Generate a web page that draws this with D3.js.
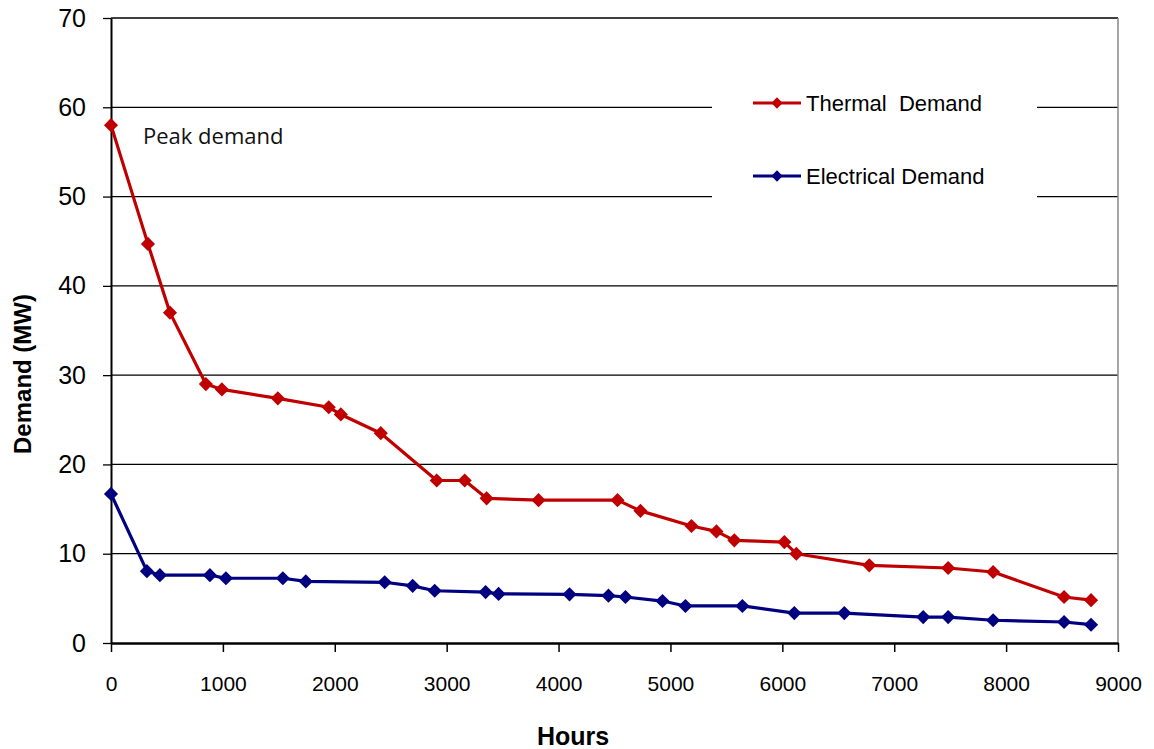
<!DOCTYPE html>
<html lang="en">
<head>
  <meta charset="UTF-8" />
  <title>Demand duration curve</title>
  <style>
    body { margin: 0; background: #fff; }
    svg { display: block; }
  </style>
  <script src="https://cdn.jsdelivr.net/npm/d3@7"></script>
</head>
<body>
  <script>
    // hours / MW
    const thermalHours = [0, 330, 527, 848, 991, 1491, 1946, 2054, 2411, 2911, 3161, 3357, 3821, 4527, 4732, 5188, 5411, 5571, 6018, 6125, 6777, 7482, 7884, 8518, 8759];
    const thermalMW = [58.0, 44.7, 37.0, 29.0, 28.4, 27.4, 26.4, 25.6, 23.5, 18.2, 18.2, 16.2, 16.0, 16.0, 14.8, 13.1, 12.5, 11.5, 11.3, 10.0, 8.7, 8.4, 7.95, 5.15, 4.8];

    const electricHours = [0, 321, 437, 884, 1027, 1536, 1741, 2446, 2696, 2893, 3348, 3464, 4098, 4446, 4598, 4929, 5134, 5643, 6107, 6554, 7259, 7482, 7884, 8518, 8759];
    const electricMW = [16.7, 8.05, 7.6, 7.6, 7.25, 7.25, 6.9, 6.8, 6.4, 5.85, 5.7, 5.5, 5.45, 5.3, 5.15, 4.7, 4.15, 4.15, 3.35, 3.35, 2.9, 2.9, 2.55, 2.35, 2.05];

    const xTicks = [0, 1000, 2000, 3000, 4000, 5000, 6000, 7000, 8000, 9000];
    const yTicks = [0, 10, 20, 30, 40, 50, 60, 70];
    const seriesNames = ["Thermal  Demand", "Electrical Demand"];
    const seriesColors = ["#C00000", "#000080"];

    const W = 1154, H = 749;
    const mLeft = 111, mRight = 1118, mTop = 18, mBottom = 643;
    const font = "Liberation Sans, Arial, sans-serif";

    const x = d3.scaleLinear().domain([0, 9000]).range([mLeft, mRight]);
    const y = d3.scaleLinear().domain([0, 70]).range([mBottom, mTop]);

    const svg = d3.select("body").append("svg")
      .attr("width", W).attr("height", H);

    // gridlines
    svg.append("g").selectAll("line")
      .data(yTicks.filter(d => d > 0))
      .join("line")
      .attr("x1", mLeft).attr("x2", mRight)
      .attr("y1", d => y(d)).attr("y2", d => y(d))
      .attr("stroke", "#000").attr("stroke-width", 1.3);

    // right border
    svg.append("line")
      .attr("x1", mRight).attr("x2", mRight).attr("y1", mTop).attr("y2", mBottom)
      .attr("stroke", "#888").attr("stroke-width", 1.5);

    // legend box (white, hides grid)
    svg.append("rect")
      .attr("x", 712).attr("y", 70).attr("width", 325).attr("height", 140)
      .attr("fill", "#fff");

    // axes
    const yAxis = svg.append("g")
      .attr("transform", `translate(${mLeft},0)`)
      .call(d3.axisLeft(y).tickValues(yTicks).tickSize(8).tickPadding(17).tickSizeOuter(0));
    yAxis.select(".domain").attr("stroke-width", 2);
    yAxis.selectAll(".tick line").attr("stroke-width", 1.3);
    yAxis.selectAll("text")
      .attr("font-family", font)
      .attr("font-size", 25).attr("fill", "#000");

    const xAxis = svg.append("g")
      .attr("transform", `translate(0,${mBottom})`)
      .call(d3.axisBottom(x).tickValues(xTicks).tickFormat(d3.format("d"))
        .tickSize(9).tickPadding(24).tickSizeOuter(0));
    xAxis.select(".domain").attr("stroke-width", 2.5);
    xAxis.selectAll(".tick line").attr("stroke-width", 1.5);
    xAxis.selectAll("text")
      .attr("font-family", font)
      .attr("font-size", 21).attr("fill", "#000");

    // axis titles
    svg.append("text")
      .attr("x", 573).attr("y", 745)
      .attr("text-anchor", "middle")
      .attr("font-family", font)
      .attr("font-weight", "bold").attr("font-size", 25)
      .text("Hours");

    svg.append("text")
      .attr("transform", "translate(31,374) rotate(-90)")
      .attr("text-anchor", "middle")
      .attr("font-family", font)
      .attr("font-weight", "bold").attr("font-size", 24)
      .text("Demand (MW)");

    svg.append("text")
      .attr("x", 143).attr("y", 144)
      .attr("font-family", "Open Sans, Noto Sans, sans-serif")
      .attr("font-size", 22).attr("fill", "#111")
      .text("Peak demand");

    const series = [
      { hours: thermalHours, mw: thermalMW },
      { hours: electricHours, mw: electricMW }
    ];

    const line = d3.line().x(d => x(d[0])).y(d => y(d[1]));
    const diamond = d3.symbol().type(d3.symbolSquare).size(100);

    series.forEach((s, i) => {
      const pts = s.hours.map((h, k) => [h, s.mw[k]]);
      svg.append("path")
        .datum(pts)
        .attr("d", line)
        .attr("fill", "none")
        .attr("stroke", seriesColors[i])
        .attr("stroke-width", 3.2)
        .attr("stroke-linejoin", "round");
      svg.append("g").selectAll("path")
        .data(pts)
        .join("path")
        .attr("transform", d => `translate(${x(d[0])},${y(d[1])}) rotate(45)`)
        .attr("d", diamond)
        .attr("fill", seriesColors[i]);
    });

    // legend
    const legY = [103, 176];
    seriesNames.forEach((name, i) => {
      const g = svg.append("g").attr("transform", `translate(753,${legY[i]})`);
      g.append("line").attr("x1", 0).attr("x2", 48)
        .attr("stroke", seriesColors[i]).attr("stroke-width", 3.2);
      g.append("path").attr("transform", "translate(24,0) rotate(45)")
        .attr("d", d3.symbol().type(d3.symbolSquare).size(64))
        .attr("fill", seriesColors[i]);
      g.append("text").attr("x", 53).attr("y", 8)
        .attr("font-family", font)
        .attr("font-size", 22).attr("fill", "#000")
        .style("white-space", "pre")
        .text(name);
    });
  </script>
</body>
</html>
